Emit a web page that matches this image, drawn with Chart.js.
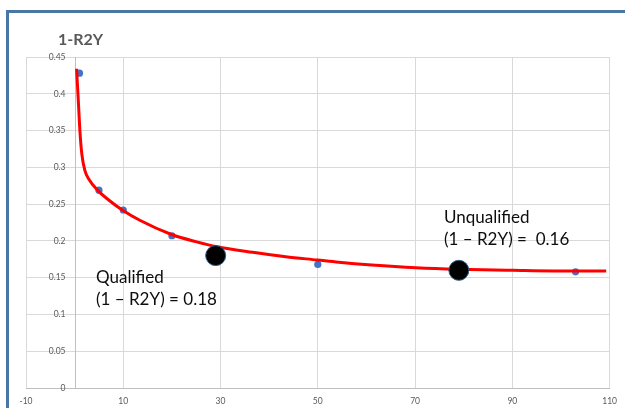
<!DOCTYPE html>
<html>
<head>
<meta charset="utf-8">
<script src="https://cdn.jsdelivr.net/npm/chart.js@4/dist/chart.umd.min.js"></script>
<style>
  html, body { margin: 0; padding: 0; background: #ffffff; }
  #wrap { position: relative; width: 625px; height: 408px; overflow: hidden; }
  #frame {
    position: absolute; left: 6px; top: 10px; width: 700px; height: 500px;
    border-left: 3px solid #4a76a6; border-top: 3px solid #4a76a6;
  }
  #chart { position: absolute; left: 0; top: 0; }
</style>
</head>
<body>
<div id="wrap">
  <div id="frame"></div>
  <canvas id="chart" width="625" height="408"></canvas>
</div>
<script>
// Axis ticks
const xTicks = [-10, 10, 30, 50, 70, 90, 110];
const yTicks = [0, 0.05, 0.1, 0.15, 0.2, 0.25, 0.3, 0.35, 0.4, 0.45];

// Fitted trend curve (1-R2Y against number of components)
const curveX = [0.4, 0.8, 1.1, 1.5, 2.1, 3, 4.7, 7, 9.8, 13.4, 19.8, 24.9, 29.3, 36.6, 43.4, 49.9, 54.3, 61.1, 70.2, 78.9, 90.1, 102.8, 109.3];
const curveY = [0.434, 0.385, 0.348, 0.317, 0.296, 0.283, 0.269, 0.2556, 0.242, 0.228, 0.209, 0.199, 0.192, 0.1845, 0.1785, 0.174, 0.1709, 0.1672, 0.1635, 0.1614, 0.160, 0.159, 0.159];

// Observed samples
const sampleX = [1, 5, 10, 20, 50, 103];
const sampleY = [0.428, 0.269, 0.242, 0.207, 0.168, 0.158];

// Highlighted thresholds: qualified / unqualified
const markerNames = ['Qualified', 'Unqualified'];
const markerX = [29, 79];
const markerY = [0.18, 0.16];

const toPoints = (xs, ys) => xs.map((x, i) => ({ x: x, y: ys[i] }));

const fontFamily = 'Lato, "Open Sans", sans-serif';
const tickFont = { family: fontFamily, size: 8.5 };
const tickColor = '#595959';
const gridColor = '#d9d9d9';
const axisColor = '#bfbfbf';

// Vertical value axis crossing at x = 0, with its labels beside it
const zeroAxis = {
  id: 'zeroAxis',
  beforeDatasetsDraw(chart) {
    const { ctx, chartArea } = chart;
    const xs = chart.scales.x, ys = chart.scales.y;
    const px = Math.round(xs.getPixelForValue(0)) + 0.5;
    ctx.save();
    ctx.strokeStyle = axisColor;
    ctx.lineWidth = 1;
    ctx.beginPath();
    ctx.moveTo(px, chartArea.top);
    ctx.lineTo(px, chartArea.bottom);
    ctx.stroke();

    ctx.fillStyle = tickColor;
    ctx.font = tickFont.size + 'px ' + fontFamily;
    ctx.textAlign = 'right';
    ctx.textBaseline = 'middle';
    yTicks.forEach(v => {
      ctx.fillText(String(v), px - 10, ys.getPixelForValue(v));
    });
    ctx.restore();
  }
};

// Title and the two threshold notes
const chartTexts = {
  id: 'chartTexts',
  afterDraw(chart) {
    const ctx = chart.ctx;
    ctx.save();
    ctx.textBaseline = 'alphabetic';
    ctx.textAlign = 'left';
    ctx.fillStyle = '#595959';
    ctx.font = 'bold 16px ' + fontFamily;
    ctx.fillText('1-R2Y', 58, 45);

    ctx.fillStyle = '#0d0d0d';
    ctx.font = '17px ' + fontFamily;
    ctx.fillText(markerNames[0], 96, 283);
    ctx.fillText('(1 \u2013 R2Y) = ' + markerY[0].toFixed(2), 96, 305);
    ctx.fillText(markerNames[1], 444, 223);
    ctx.fillText('(1 \u2013 R2Y) =  ' + markerY[1].toFixed(2), 444, 245);
    ctx.restore();
  }
};

new Chart(document.getElementById('chart'), {
  type: 'scatter',
  data: {
    datasets: [
      {
        label: 'Thresholds',
        data: toPoints(markerX, markerY),
        pointRadius: 10,
        pointBackgroundColor: '#000000',
        pointBorderColor: '#2f5a85',
        pointBorderWidth: 1,
        showLine: false,
        order: 1
      },
      {
        label: 'Trend',
        data: toPoints(curveX, curveY),
        showLine: true,
        borderColor: '#ff0000',
        borderWidth: 3,
        pointRadius: 0,
        cubicInterpolationMode: 'monotone',
        fill: false,
        order: 2
      },
      {
        label: 'Samples',
        data: toPoints(sampleX, sampleY),
        pointRadius: 3.6,
        pointBackgroundColor: '#4472c4',
        pointBorderColor: '#4472c4',
        pointBorderWidth: 0,
        showLine: false,
        order: 3
      }
    ]
  },
  options: {
    responsive: false,
    animation: false,
    events: [],
    layout: { padding: { left: 0, top: 57, right: 13, bottom: 0 } },
    plugins: {
      legend: { display: false },
      tooltip: { enabled: false },
      title: { display: false }
    },
    scales: {
      x: {
        type: 'linear',
        min: xTicks[0],
        max: xTicks[xTicks.length - 1],
        afterBuildTicks: (s) => { s.ticks = xTicks.map(v => ({ value: v })); },
        afterFit: (s) => { s.height = 20; },
        grid: { color: gridColor, lineWidth: 1, drawTicks: false },
        border: { color: axisColor, width: 1 },
        ticks: { padding: 8, font: tickFont, color: tickColor, maxRotation: 0, autoSkip: false,
                 callback: (v) => String(v) }
      },
      y: {
        type: 'linear',
        min: yTicks[0],
        max: yTicks[yTicks.length - 1],
        afterBuildTicks: (s) => { s.ticks = yTicks.map(v => ({ value: v })); },
        afterFit: (s) => { s.width = 26; },
        grid: { color: gridColor, lineWidth: 1, drawTicks: false },
        border: { display: false },
        ticks: { display: false }
      }
    }
  },
  plugins: [zeroAxis, chartTexts]
});
</script>
</body>
</html>
